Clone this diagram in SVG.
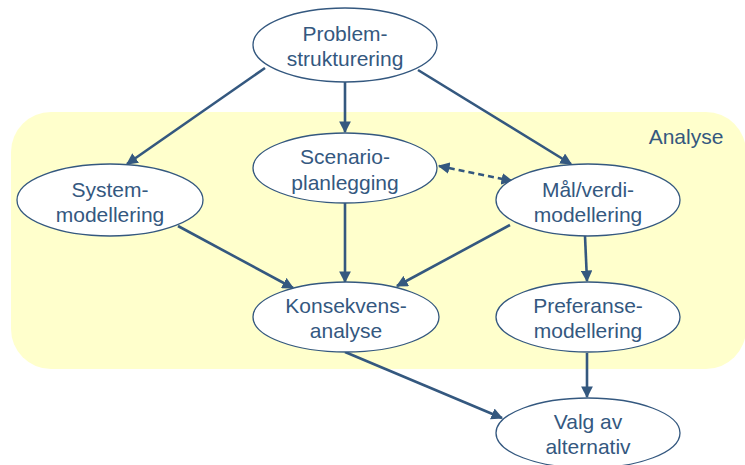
<svg xmlns="http://www.w3.org/2000/svg" width="745" height="465" viewBox="0 0 745 465">
  <style>
    .node ellipse { fill: #ffffff; stroke: #34587f; stroke-width: 1.3; }
    .node text, .label { font-family: "Liberation Sans", Arial, sans-serif; font-size: 21px; fill: #34587f; text-anchor: middle; }
    .edge { stroke: #34587f; stroke-width: 2.6; fill: none; marker-end: url(#arrow); }
    .dashed { stroke-dasharray: 6 4; marker-start: url(#arrowStart); }
  </style>
  <defs>
    <marker id="arrow" viewBox="0 0 10 10" refX="9" refY="5" markerWidth="4.5" markerHeight="4.5" orient="auto" markerUnits="strokeWidth">
      <path d="M0,0 L10,5 L0,10 z" fill="#34587f"/>
    </marker>
    <marker id="arrowStart" viewBox="0 0 10 10" refX="1" refY="5" markerWidth="4.5" markerHeight="4.5" orient="auto" markerUnits="strokeWidth">
      <path d="M10,0 L0,5 L10,10 z" fill="#34587f"/>
    </marker>
  </defs>

  <!-- analysis region -->
  <rect x="11" y="112" width="735" height="257" rx="40" ry="40" fill="#ffffcc"/>
  <text class="label" x="686" y="144">Analyse</text>

  <!-- connectors -->
  <g id="connectors">
    <line class="edge" x1="265" y1="68" x2="127" y2="164"/>
    <line class="edge" x1="345" y1="82" x2="345" y2="132"/>
    <line class="edge" x1="418" y1="70" x2="571" y2="164"/>
    <line class="edge" x1="178" y1="226" x2="293" y2="288"/>
    <line class="edge" x1="345" y1="203" x2="345" y2="282"/>
    <line class="edge" x1="510" y1="225" x2="397" y2="286"/>
    <line class="edge" x1="585" y1="236" x2="587" y2="281"/>
    <line class="edge" x1="587" y1="353" x2="587" y2="397"/>
    <line class="edge" x1="345" y1="352" x2="502" y2="418"/>
    <line class="edge dashed" x1="439" y1="166" x2="512" y2="181"/>
  </g>

  <!-- nodes -->
  <g id="problemstrukturering" class="node">
    <ellipse cx="345" cy="45" rx="92" ry="37"/>
    <text x="345" y="41">Problem-</text>
    <text x="345" y="66">strukturering</text>
  </g>
  <g id="systemmodellering" class="node">
    <ellipse cx="110" cy="200" rx="93" ry="36"/>
    <text x="110" y="197">System-</text>
    <text x="110" y="222">modellering</text>
  </g>
  <g id="scenarioplanlegging" class="node">
    <ellipse cx="345" cy="168" rx="92" ry="35"/>
    <text x="345" y="164">Scenario-</text>
    <text x="345" y="190">planlegging</text>
  </g>
  <g id="maalverdimodellering" class="node">
    <ellipse cx="588" cy="200" rx="92" ry="36"/>
    <text x="588" y="197">Mål/verdi-</text>
    <text x="588" y="222">modellering</text>
  </g>
  <g id="konsekvensanalyse" class="node">
    <ellipse cx="346" cy="317" rx="93" ry="35"/>
    <text x="346" y="313">Konsekvens-</text>
    <text x="346" y="338">analyse</text>
  </g>
  <g id="preferansemodellering" class="node">
    <ellipse cx="588" cy="317" rx="92" ry="35"/>
    <text x="588" y="313">Preferanse-</text>
    <text x="588" y="338">modellering</text>
  </g>
  <g id="valgavalternativ" class="node">
    <ellipse cx="588" cy="433" rx="92" ry="35"/>
    <text x="588" y="429">Valg av</text>
    <text x="588" y="454">alternativ</text>
  </g>
</svg>
